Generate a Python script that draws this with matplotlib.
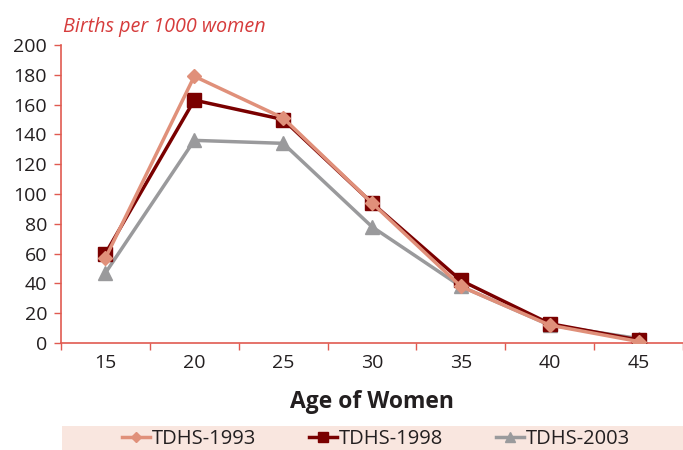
import matplotlib
matplotlib.use("Agg")
import matplotlib.pyplot as plt
from matplotlib.patches import Rectangle

ages = ["15", "20", "25", "30", "35", "40", "45"]
tdhs_1993 = [57, 179, 151, 94, 38, 12, 1]
tdhs_1998 = [60, 163, 150, 94, 42, 13, 2]
tdhs_2003 = [47, 136, 134, 78, 38, 12, 3]
yticks = [0, 20, 40, 60, 80, 100, 120, 140, 160, 180, 200]

plt.rcParams['font.family'] = ['Open Sans', 'DejaVu Sans']

W, H = 683, 450
fig = plt.figure(figsize=(W / 100, H / 100), dpi=100)
ax = fig.add_axes([61 / W, 1 - 343 / H, 1 - 61 / W, (343 - 45) / H])

x = list(range(len(ages)))
c93, c98, c03 = "#e0907a", "#7a0000", "#9a9a9c"
ax.plot(x, tdhs_2003, color=c03, lw=2.5, marker="^", ms=10, label="TDHS-2003", zorder=3)
ax.plot(x, tdhs_1998, color=c98, lw=2.5, marker="s", ms=9.5, label="TDHS-1998", zorder=4)
ax.plot(x, tdhs_1993, color=c93, lw=2.5, marker="D", ms=7.5, label="TDHS-1993", zorder=5)

ax.set_ylim(0, 200)
ax.set_yticks(yticks)
ax.set_xlim(-0.5, 6.38)
ax.set_xticks(x)
ax.set_xticklabels(ages)
ax.set_xticks([i - 0.5 for i in range(8)], minor=True)
spine_c = "#e05a50"
for s in ["top", "right"]:
    ax.spines[s].set_visible(False)
for s in ["left", "bottom"]:
    ax.spines[s].set_color(spine_c)
    ax.spines[s].set_linewidth(1.2)
ax.tick_params(axis="x", which="major", length=0, labelsize=14, colors="#231f20", pad=8)
ax.tick_params(axis="x", which="minor", length=5, color=spine_c, width=1)
ax.tick_params(axis="y", length=5, color=spine_c, width=1, labelsize=14, labelcolor="#231f20", pad=5)
ax.set_facecolor("none")

fig.text(63 / W, 1 - 27 / H, "Births per 1000 women", color="#d63c3c", fontsize=14.2,
         style="italic", va="center", ha="left")
fig.text((61 + 683) / 2 / W, 1 - 402 / H, "Age of Women", fontsize=16.5, fontweight="bold",
         color="#231f20", ha="center", va="center")

fig.patches.append(Rectangle((62 / W, 0), 1 - 62 / W, 24 / H, transform=fig.transFigure,
                             facecolor="#f9e6df", edgecolor="none", zorder=0))
h, l = ax.get_legend_handles_labels()
order = [2, 1, 0]
leg = fig.legend([h[i] for i in order], [l[i] for i in order], loc="center",
                 bbox_to_anchor=(376 / W, 1 - 439 / H), ncol=3, frameon=False,
                 fontsize=14.5, handlelength=1.4, handletextpad=0.1, columnspacing=2.6,
                 markerscale=0.7)
for t in leg.get_texts():
    t.set_color("#231f20")

fig.savefig("out.png", dpi=100)
